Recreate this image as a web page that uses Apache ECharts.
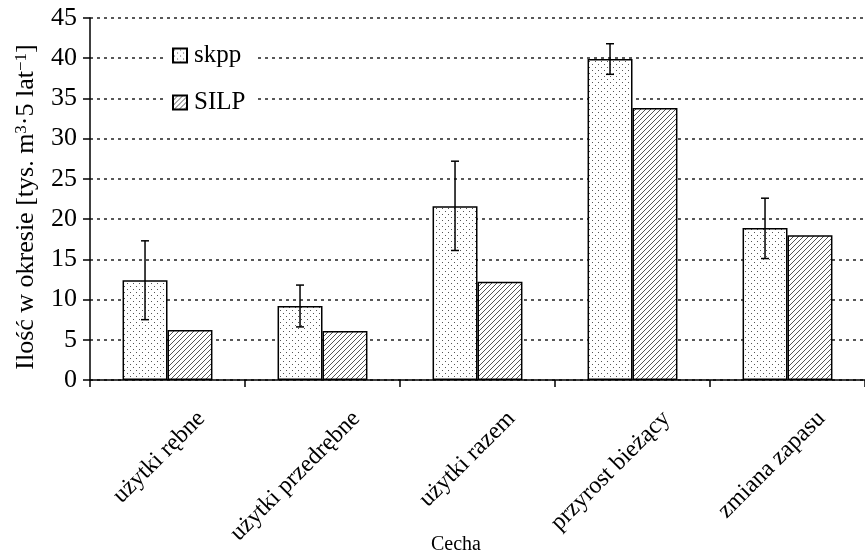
<!DOCTYPE html>
<html><head><meta charset="utf-8">
<script src="https://cdn.jsdelivr.net/npm/echarts@6/dist/echarts.min.js"></script>
<style>html,body{margin:0;padding:0;background:#fff}#c{width:865px;height:557px}</style></head>
<body><div id="c"></div><script>
const categories = ['użytki rębne', 'użytki przedrębne', 'użytki razem', 'przyrost bieżący', 'zmiana zapasu'];
const skpp = [12.4, 9.2, 21.6, 39.9, 18.9];
const silp = [6.2, 6.1, 12.2, 33.8, 18.0];
const skppLow = [7.5, 6.6, 16.1, 38.0, 15.1];
const skppHigh = [17.3, 11.8, 27.2, 41.8, 22.6];
const yMin = 0, yMax = 45, yStep = 5;

function dotPattern() {
  const c = document.createElement('canvas'); c.width = 6; c.height = 6;
  const g = c.getContext('2d');
  g.fillStyle = '#fff'; g.fillRect(0, 0, 6, 6);
  g.fillStyle = '#555';
  g.fillRect(1, 1, 1, 1); g.fillRect(4, 4, 1, 1);
  return c;
}
function hatchPattern() {
  const c = document.createElement('canvas'); c.width = 5; c.height = 5;
  const g = c.getContext('2d');
  g.fillStyle = '#fff'; g.fillRect(0, 0, 5, 5);
  g.strokeStyle = '#555'; g.lineWidth = 1;
  g.beginPath();
  g.moveTo(-1, 6); g.lineTo(6, -1);
  g.moveTo(-1, 1); g.lineTo(1, -1);
  g.moveTo(4, 6); g.lineTo(6, 4);
  g.stroke();
  return c;
}
const font = 'Liberation Serif';
const chart = echarts.init(document.getElementById('c'), null, {renderer: 'canvas'});
const errData = categories.map((c, i) => [i, skppLow[i], skppHigh[i]]);
chart.setOption({
  animation: false,
  backgroundColor: '#fff',
  textStyle: {fontFamily: font, color: '#000'},
  title: {text: 'Cecha', left: 431, top: 535, padding: 0, textStyle: {fontFamily: font, fontSize: 20, fontWeight: 'normal', color: '#000'}},
  legend: {
    data: ['skpp', 'SILP'], orient: 'vertical', left: 164, top: 39,
    backgroundColor: '#fff', padding: [4, 10, 4, 8], itemGap: 22,
    itemWidth: 14, itemHeight: 14, icon: 'rect',
    textStyle: {fontFamily: font, fontSize: 25, color: '#000', padding: [0, 0, 0, 2]}
  },
  grid: {left: 90, top: 18, width: 780, height: 362},
  xAxis: {
    type: 'category', data: categories,
    axisLine: {lineStyle: {color: '#000', width: 1.5}},
    axisTick: {show: true, length: 7, lineStyle: {color: '#000', width: 1.5}, alignWithLabel: false},
    axisLabel: {interval: 0, rotate: 45, margin: 69, padding: [0, -48, 0, 0], fontFamily: font, fontSize: 24, color: '#000'}
  },
  yAxis: {
    type: 'value', min: yMin, max: yMax, interval: yStep,
    name: 'Ilość w okresie [tys. m{sup|3}·5 lat{sup|−1}]',
    nameLocation: 'middle', nameGap: 50, nameRotate: 90,
    nameTextStyle: {fontFamily: font, fontSize: 26, color: '#000', padding: [0, 16, 0, 0],
      rich: {sup: {fontFamily: font, fontSize: 17, verticalAlign: 'top', padding: [0, 0, 10, 0], color: '#000'}}},
    axisLine: {show: true, lineStyle: {color: '#000', width: 1.5}},
    axisTick: {show: true, length: 7, lineStyle: {color: '#000', width: 1.5}},
    axisLabel: {margin: 13, fontFamily: font, fontSize: 26, color: '#000'},
    splitLine: {show: true, lineStyle: {color: '#222', width: 1.5, type: [3, 4]}}
  },
  series: [
    {name: 'skpp', type: 'bar', data: skpp, barWidth: '29%', barGap: '0%',
      itemStyle: {color: {image: dotPattern(), repeat: 'repeat'}, borderColor: '#000', borderWidth: 1.5}},
    {name: 'SILP', type: 'bar', data: silp, barWidth: '29%', barGap: '0%',
      itemStyle: {color: {image: hatchPattern(), repeat: 'repeat'}, borderColor: '#000', borderWidth: 1.5}},
    {name: 'err', type: 'custom', data: errData, z: 10,
      renderItem: function (params, api) {
        const i = api.value(0);
        const lo = api.coord([i, api.value(1)]);
        const hi = api.coord([i, api.value(2)]);
        const band = api.size([1, 0])[0];
        const x = lo[0] - band * 0.145;
        const cap = 4;
        const st = {stroke: '#000', lineWidth: 1.5};
        return {type: 'group', children: [
          {type: 'line', shape: {x1: x, y1: lo[1], x2: x, y2: hi[1]}, style: st},
          {type: 'line', shape: {x1: x - cap, y1: lo[1], x2: x + cap, y2: lo[1]}, style: st},
          {type: 'line', shape: {x1: x - cap, y1: hi[1], x2: x + cap, y2: hi[1]}, style: st}
        ]};
      }}
  ]
});
</script></body></html>
